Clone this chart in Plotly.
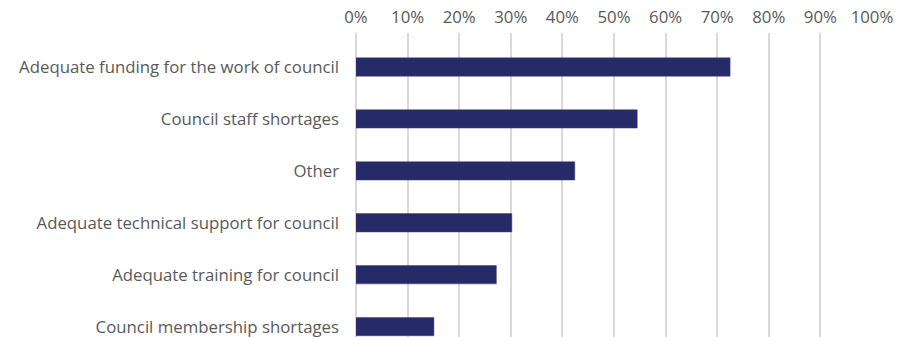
import plotly.graph_objects as go

categories = [
    "Adequate funding for the work of council",
    "Council staff shortages",
    "Other",
    "Adequate technical support for council",
    "Adequate training for council",
    "Council membership shortages",
]
values = [72.5, 54.5, 42.4, 30.2, 27.2, 15.1]
tick_vals = [0, 10, 20, 30, 40, 50, 60, 70, 80, 90, 100]
tick_text = [f"{v}%" for v in tick_vals]

fig = go.Figure(go.Bar(
    x=values, y=categories, orientation="h",
    marker=dict(color="#262A66", line=dict(color="#3a3f78", width=0.5)),
    width=0.353,
))

font = dict(family="Open Sans, sans-serif", size=16.8, color="#595959")
fig.update_layout(
    width=904, height=337,
    margin=dict(l=356, r=32, t=33, b=0),
    paper_bgcolor="white", plot_bgcolor="white",
    showlegend=False,
    font=font,
    xaxis=dict(
        side="top", range=[0, 100], tickvals=tick_vals, ticktext=tick_text,
        showgrid=True, gridcolor="#d9d9d9", gridwidth=1.5,
        zeroline=True, zerolinecolor="#d9d9d9", zerolinewidth=1.5,
        showline=False, ticks="", tickfont=font, fixedrange=True,
        ticklabelstandoff=6,
    ),
    yaxis=dict(
        type="category", categoryorder="array", categoryarray=categories,
        range=[5.2, -0.655], showgrid=False, zeroline=False, showline=False,
        ticks="", tickfont=font, ticklabelstandoff=16,
    ),
)

fig.write_html("out.html")
